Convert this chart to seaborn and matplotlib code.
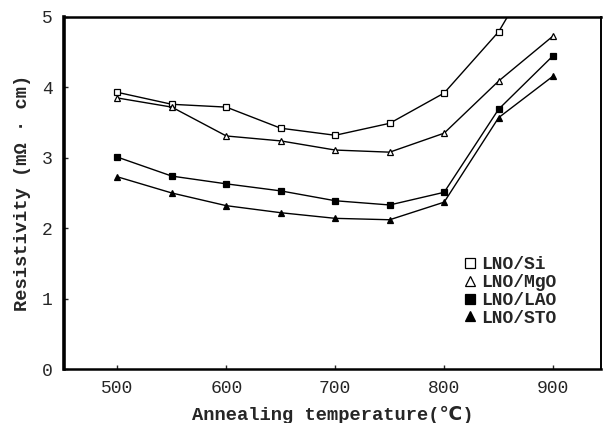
import matplotlib
matplotlib.use("Agg")
import matplotlib.pyplot as plt
import seaborn as sns
import pandas as pd
from matplotlib.lines import Line2D

temps = [500, 550, 600, 650, 700, 750, 800, 850, 900]
si = [3.93, 3.76, 3.72, 3.42, 3.32, 3.49, 3.92, 4.79, 6.10]
mgo = [3.85, 3.72, 3.31, 3.24, 3.11, 3.08, 3.35, 4.09, 4.73]
lao = [3.01, 2.74, 2.63, 2.53, 2.39, 2.33, 2.51, 3.69, 4.45]
sto = [2.73, 2.50, 2.32, 2.22, 2.14, 2.12, 2.37, 3.57, 4.16]
labels = ["LNO/Si", "LNO/MgO", "LNO/LAO", "LNO/STO"]
xticks = [500, 600, 700, 800, 900]
yticks = [0, 1, 2, 3, 4, 5]

sns.set_style("ticks")
fam = ["Liberation Mono", "DejaVu Sans Mono", "DejaVu Sans"]
plt.rcParams["font.family"] = fam
plt.rcParams["font.weight"] = "bold"

fig = plt.figure(figsize=(6.06, 4.23), dpi=100)
ax = fig.add_axes([64 / 606, 1 - 369 / 423, (601 - 64) / 606, (369 - 17) / 423])

series = [si, mgo, lao, sto]
styles = [("s", "white"), ("^", "white"), ("s", "black"), ("^", "black")]
for vals, lab, (mk, fc) in zip(series, labels, styles):
    df = pd.DataFrame({"T": temps, "R": vals})
    sns.lineplot(data=df, x="T", y="R", ax=ax, color="black", lw=1.0,
                 marker=mk, markersize=4.5, markerfacecolor=fc,
                 markeredgecolor="black", markeredgewidth=0.9, legend=False)

ax.set_xlim(451, 944)
ax.set_ylim(0, 5)
ax.set_xticks(xticks)
ax.set_yticks(yticks)
ax.tick_params(direction="in", length=3, width=1, labelsize=13, pad=8)
for lbl in ax.get_xticklabels() + ax.get_yticklabels():
    lbl.set_fontweight("normal")
ax.set_xlabel("Annealing temperature(\u2103)", fontsize=13.5, fontweight="bold", labelpad=6)
ax.set_ylabel("Resistivity (m\u03a9 \u00b7 cm)", fontsize=13.5, fontweight="bold", labelpad=8)

for side, w in [("left", 2.6), ("bottom", 1.8), ("top", 1.8), ("right", 1.4)]:
    ax.spines[side].set_visible(True)
    ax.spines[side].set_linewidth(w)
    ax.spines[side].set_color("black")

handles = [Line2D([], [], linestyle="none", marker=mk, markersize=7,
                  markerfacecolor=fc, markeredgecolor="black", markeredgewidth=0.9)
           for mk, fc in styles]
leg = ax.legend(handles, labels, loc="upper left",
                bbox_to_anchor=(454 / 606, 1 - 247 / 423), bbox_transform=fig.transFigure,
                frameon=False, fontsize=13, handlelength=0.8, handletextpad=0.2,
                labelspacing=0.05, borderpad=0.0)
for t in leg.get_texts():
    t.set_fontweight("bold")

fig.savefig("out.png", dpi=100)
